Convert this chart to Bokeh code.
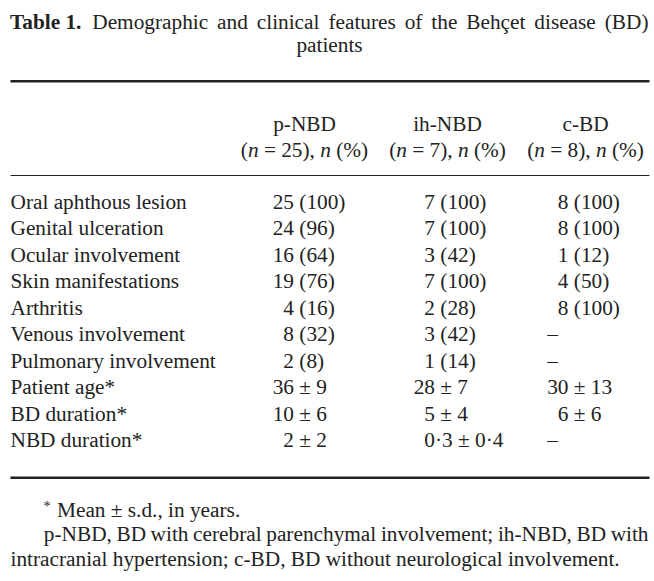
import re
from bokeh.plotting import figure
from bokeh.models import Range1d
from bokeh.core.properties import value
from bokeh.embed import file_html
from bokeh.resources import INLINE

# ---------------- data ----------------
title_bold = "Table 1."
title_words = ["Demographic", "and", "clinical", "features", "of", "the",
               "Behçet", "disease", "(BD)"]
title_line2 = "patients"

groups = ["p-NBD", "ih-NBD", "c-BD"]
group_n = ["25", "7", "8"]

features = ["Oral aphthous lesion", "Genital ulceration", "Ocular involvement",
            "Skin manifestations", "Arthritis", "Venous involvement",
            "Pulmonary involvement", "Patient age*", "BD duration*", "NBD duration*"]
p_nbd = ["25 (100)", "24 (96)", "16 (64)", "19 (76)", "4 (16)", "8 (32)",
         "2 (8)", "36 ± 9", "10 ± 6", "2 ± 2"]
ih_nbd = ["7 (100)", "7 (100)", "3 (42)", "7 (100)", "2 (28)", "3 (42)",
          "1 (14)", "28 ± 7", "5 ± 4", "0·3 ± 0·4"]
c_bd = ["8 (100)", "8 (100)", "1 (12)", "4 (50)", "8 (100)", "–", "–",
        "30 ± 13", "6 ± 6", "–"]

footnote_star = "*"
footnote1 = "Mean ± s.d., in years."
footnote2 = "p-NBD, BD with cerebral parenchymal involvement; ih-NBD, BD with"
footnote3 = "intracranial hypertension; c-BD, BD without neurological involvement."

# ---------------- font metrics (Times New Roman / Liberation Serif) ----------------
REG = {' ': 250, '(': 333, ')': 333, '*': 500, ',': 250, '-': 333, '.': 250,
       ';': 278, '=': 564, '%': 833, '±': 549, '·': 250, '–': 500,
       'A': 722, 'B': 667, 'C': 667, 'D': 722, 'E': 611, 'F': 556, 'G': 722,
       'H': 722, 'I': 333, 'M': 889, 'N': 722, 'O': 722, 'P': 556, 'S': 556,
       'T': 611,
       'a': 444, 'b': 500, 'c': 444, 'd': 500, 'e': 444, 'f': 333, 'g': 500,
       'h': 500, 'i': 278, 'j': 278, 'k': 500, 'l': 278, 'm': 778, 'n': 500,
       'o': 500, 'p': 500, 'q': 500, 'r': 333, 's': 389, 't': 278, 'u': 500,
       'v': 500, 'w': 722, 'x': 500, 'y': 500, 'z': 444, 'ç': 444}
BOLD = {'T': 667, 'a': 500, 'b': 556, 'l': 278, 'e': 444, ' ': 250, '1': 500, '.': 250}
ITAL = {'n': 500}


def text_w(s, size, table=REG):
    return sum(table.get(ch, 500) for ch in s) / 1000.0 * size


# ---------------- figure ----------------
FONT = value("Liberation Serif")
FS = 21.3
INK = "#222222"
BASE_SHIFT = 0.375  # rendered baseline sits this many em below the requested y

W, H = 654, 581
p = figure(width=W, height=H, x_range=Range1d(0, W), y_range=Range1d(H, 0),
           x_axis_type=None, y_axis_type=None, output_backend="svg",
           toolbar_location=None, min_border=0)
p.grid.visible = False
p.outline_line_color = None
p.background_fill_color = "white"
p.border_fill_color = "white"


def put(x, y, s, align="left", style="normal", size=FS):
    p.text(x=[x], y=[y - BASE_SHIFT * size], text=[s], text_font=FONT,
           text_font_size=value(f"{size}px"), text_font_style=style,
           text_align=align, text_baseline="alphabetic", text_color=INK)


def put_segments(x, y, segs):
    for s, style in segs:
        table = ITAL if style == "italic" else REG
        lead = len(s) - len(s.lstrip(" "))
        core = s.strip(" ")
        if core:
            put(x + text_w(" " * lead, FS), y, core, style=style)
        x += text_w(s, FS, table)


def justify(words, y, left, right, first_bold=False):
    widths = []
    for i, w in enumerate(words):
        widths.append(text_w(w, FS, BOLD if (first_bold and i == 0) else REG))
    gap = (right - left - sum(widths)) / (len(words) - 1)
    x = left
    for i, w in enumerate(words):
        put(x, y, w, style="bold" if (first_bold and i == 0) else "normal")
        x += widths[i] + gap


LEFT, RIGHT = 9.5, 648

# title
justify([title_bold] + title_words, 29, LEFT, RIGHT, first_bold=True)
put((10 + 648) / 2, 52, title_line2, align="center")

# rules
p.segment(x0=[10, 10, 10], y0=[80.7, 175, 477.3], x1=[649, 649, 649],
          y1=[80.7, 175, 477.3], line_width=[2.6, 1.1, 2.6], line_color="#222222")

# column headers
centers = [304, 447, 585]
for c, g, n in zip(centers, groups, group_n):
    put(c, 131, g, align="center")
    segs = [("(", "normal"), ("n", "italic"), (f" = {n}), ", "normal"),
            ("n", "italic"), (" (%)", "normal")]
    total = sum(text_w(s, FS, ITAL if st == "italic" else REG) for s, st in segs)
    put_segments(c - total / 2, 157, segs)

# body rows
anchors = [293.5, 434.5, 568]
row0, step = 209, 26.55
for i, f in enumerate(features):
    y = row0 + i * step
    put(10, y, f)
    for a, col in zip(anchors, [p_nbd, ih_nbd, c_bd]):
        s = col[i]
        m = re.match(r"(\d+)(.*)", s)
        if m:
            put(a, y, m.group(1), align="right")
            rest = m.group(2)
            lead = len(rest) - len(rest.lstrip(" "))
            if rest.strip():
                put(a + text_w(" " * lead, FS), y, rest.strip())
        else:
            put(a - text_w("00", FS), y, s)

# footnotes
put(43, 511, footnote_star, size=14)
put(56.5, 517, footnote1)
justify(footnote2.split(" "), 541.5, 43.3, RIGHT)
put(10, 566, footnote3)

open("out.html", "w").write(file_html(p, INLINE))
